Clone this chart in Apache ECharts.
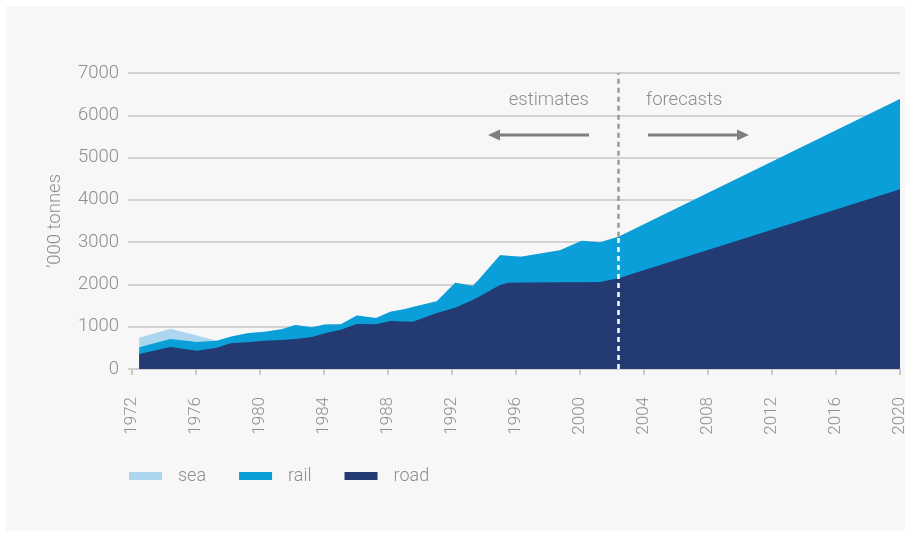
<!DOCTYPE html>
<html>
<head>
<meta charset="utf-8">
<script src="https://cdn.jsdelivr.net/npm/echarts@6/dist/echarts.min.js"></script>
<style>
  html, body { margin: 0; padding: 0; background: #ffffff; }
  #panel { position: absolute; left: 6px; top: 6px; width: 899px; height: 525px; background: #f7f7f7; }
  #chart { position: absolute; left: 0; top: 0; width: 911px; height: 535px; }
</style>
</head>
<body>
<div id="panel"></div>
<div id="chart"></div>
<script>
// Freight volumes by mode, '000 tonnes (estimates to 2002, straight-line forecast to 2020)
const years = [1972.45, 1974.4, 1976.05, 1977.3, 1978.15, 1979.2, 1980.3, 1981.35, 1982.2, 1983.25,
               1984.05, 1985.05, 1986.05, 1987.25, 1988.15, 1989.0, 1989.55, 1991.05, 1992.2, 1993.3,
               1993.65, 1995.0, 1995.5, 1996.3, 1998.75, 2000.1, 2001.25, 2002.4, 2020];
const road = [355, 520, 433, 505, 607, 630, 670, 686, 710, 757,
              843, 930, 1064, 1060, 1135, 1125, 1119, 1325, 1447, 1632,
              1700, 1987, 2041, 2045, 2050, 2050, 2060, 2145, 4250];
const rail = [158, 190, 206, 165, 158, 213, 213, 253, 331, 233,
              210, 127, 201, 145, 217, 290, 346, 275, 594, 338,
              405, 705, 639, 611, 756, 984, 940, 984, 2136];
const sea  = [228, 243, 156, 0, 0, 0, 0, 0, 0, 0,
              0, 0, 0, 0, 0, 0, 0, 0, 0, 0,
              0, 0, 0, 0, 0, 0, 0, 0, 0];

const xTicks = [1972, 1976, 1980, 1984, 1988, 1992, 1996, 2000, 2004, 2008, 2012, 2016, 2020];
const yTicks = [0, 1000, 2000, 3000, 4000, 5000, 6000, 7000];
const seriesNames = ['sea', 'rail', 'road'];

// cumulative band tops: road at the bottom, rail above it, sea on top
const roadTop = road.slice();
const railTop = road.map((v, i) => v + rail[i]);
const seaTop = railTop.map((v, i) => v + sea[i]);

// last estimated year, where the forecast begins
const splitIndex = years.length - 2;
const splitYear = years[splitIndex];
const splitTop = seaTop[splitIndex];

const FONT = 'Roboto';
const GREY_TEXT = '#8e8e8e';
const colors = { sea: '#acd5f0', rail: '#0a9fd9', road: '#243a73' };

function pairs(vals) { return years.map((y, i) => [y, vals[i]]); }

// each band is filled down to zero; later series paint over earlier ones
function areaSeries(name, tops, z) {
  return {
    name: name,
    type: 'line',
    data: pairs(tops),
    symbol: 'none',
    showSymbol: false,
    lineStyle: { width: 0 },
    itemStyle: { color: colors[name] },
    areaStyle: { color: colors[name], opacity: 1 },
    emphasis: { disabled: true },
    silent: true,
    z: z
  };
}

const chart = echarts.init(document.getElementById('chart'), null, { renderer: 'canvas' });

const option = {
  backgroundColor: 'transparent',
  animation: false,
  textStyle: { fontFamily: FONT },
  grid: { left: 132, right: 11, top: 73, bottom: 166, containLabel: false },
  xAxis: {
    type: 'value',
    min: xTicks[0],
    max: xTicks[xTicks.length - 1],
    interval: xTicks[1] - xTicks[0],
    offset: 6,
    axisLine: { show: false },
    axisTick: { show: true, length: 6, lineStyle: { color: '#c9c9c9', width: 2 } },
    splitLine: { show: false },
    axisLabel: {
      rotate: 90,
      margin: 22,
      color: GREY_TEXT,
      fontFamily: FONT,
      fontWeight: 300,
      fontSize: 17,
      showMinLabel: true,
      showMaxLabel: true,
      formatter: v => String(v)
    }
  },
  yAxis: {
    type: 'value',
    min: yTicks[0],
    max: yTicks[yTicks.length - 1],
    interval: yTicks[1] - yTicks[0],
    name: '\u2019000 tonnes',
    nameLocation: 'middle',
    nameRotate: 90,
    nameGap: 67,
    nameTextStyle: { color: GREY_TEXT, fontFamily: FONT, fontWeight: 300, fontSize: 18.5 },
    axisLine: { show: false },
    axisTick: { show: true, length: 4, lineStyle: { color: '#d2d2d2', width: 2 } },
    splitLine: { show: true, lineStyle: { color: '#d2d2d2', width: 2 } },
    axisLabel: {
      margin: 13,
      color: GREY_TEXT,
      fontFamily: FONT,
      fontWeight: 300,
      fontSize: 18.5,
      formatter: v => String(v)
    }
  },
  legend: {
    data: seriesNames,
    left: 124,
    top: 462,
    icon: 'rect',
    itemWidth: 33,
    itemHeight: 8,
    itemGap: 33,
    selectedMode: false,
    textStyle: { color: GREY_TEXT, fontFamily: FONT, fontWeight: 300, fontSize: 18, padding: [0, 0, 0, 11] }
  },
  series: [
    areaSeries('sea', seaTop, 2),
    areaSeries('rail', railTop, 3),
    areaSeries('road', roadTop, 4),
    {
      // divider between estimates and forecasts
      type: 'line',
      data: [],
      silent: true,
      z: 6,
      markLine: {
        silent: true,
        symbol: ['none', 'none'],
        label: { show: false },
        animation: false,
        data: [
          [{ coord: [splitYear, 0], lineStyle: { color: '#ffffff', width: 2.5, type: [5, 4] } },
           { coord: [splitYear, splitTop] }],
          [{ coord: [splitYear, splitTop], lineStyle: { color: '#9a9a9a', width: 2.5, type: [5, 4] } },
           { coord: [splitYear, yTicks[yTicks.length - 1]] }]
        ]
      }
    }
  ],
  graphic: [
    { type: 'text', x: 589, y: 100, style: { text: 'estimates', fill: GREY_TEXT, font: '300 18.5px Roboto', textAlign: 'right', textVerticalAlign: 'middle' } },
    { type: 'text', x: 646, y: 100, style: { text: 'forecasts', fill: GREY_TEXT, font: '300 18.5px Roboto', textAlign: 'left', textVerticalAlign: 'middle' } },
    { type: 'line', shape: { x1: 589, y1: 135, x2: 497, y2: 135 }, style: { stroke: '#7f7f7f', lineWidth: 3 } },
    { type: 'polygon', shape: { points: [[488, 135], [500, 129.5], [500, 140.5]] }, style: { fill: '#7f7f7f' } },
    { type: 'line', shape: { x1: 648, y1: 135, x2: 740, y2: 135 }, style: { stroke: '#7f7f7f', lineWidth: 3 } },
    { type: 'polygon', shape: { points: [[749, 135], [737, 129.5], [737, 140.5]] }, style: { fill: '#7f7f7f' } }
  ]
};

chart.setOption(option);
</script>
</body>
</html>
